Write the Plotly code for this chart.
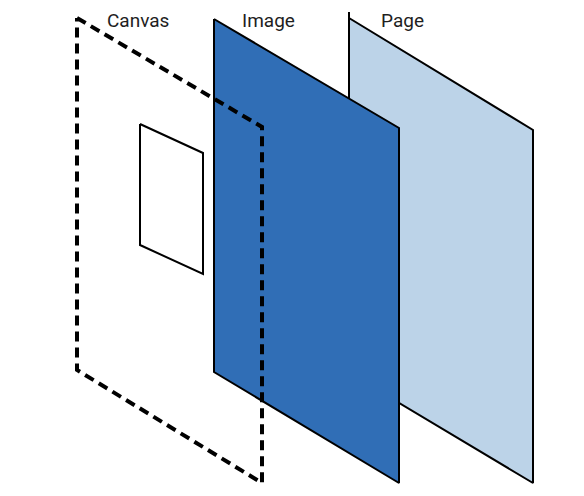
#!/usr/bin/env python3

import plotly.graph_objs as go

# layer outlines in picture coordinates (x right, y down), corners in drawing order
canvas_x = [77, 262, 262, 77, 77]
canvas_y = [18, 127, 483, 370, 18]

image_x = [214, 399, 399, 214, 214]
image_y = [19, 128, 483, 372, 19]

page_x = [349, 533, 533, 349, 349]
page_y = [18, 130, 483, 373, 18]

page_tick_x = [349, 349]
page_tick_y = [12, 18]

inner_x = [140, 203, 203, 140, 140]
inner_y = [124, 153, 274, 245, 124]

labels = ["Canvas", "Image", "Page"]
label_x = [105, 240, 379]
label_y = [20, 20, 20]


def polygon(xs, ys, fill, width=2, dash="solid"):
    return go.Scatter(x=xs, y=ys, mode="lines", fill="toself" if fill else "none",
                      fillcolor=fill, line=dict(color="black", width=width, dash=dash),
                      hoverinfo="skip", showlegend=False)


traces = [
    polygon(page_x, page_y, "#bcd3e8"),
    polygon(page_tick_x, page_tick_y, None),
    polygon(image_x, image_y, "#306eb6"),
    polygon(inner_x, inner_y, "white"),
    polygon(canvas_x, canvas_y, None, width=4, dash="10px,6px"),
]

# the page body has an 8px margin, so the ranges are shifted to keep picture coords
layout = go.Layout(
    width=584, height=496,
    margin=dict(l=0, r=0, t=0, b=0),
    paper_bgcolor="white", plot_bgcolor="white",
    xaxis=dict(range=[8, 592], visible=False, fixedrange=True),
    yaxis=dict(range=[504, 8], visible=False, fixedrange=True),
    font=dict(family="Roboto, sans-serif", size=19, color="#1e1e1e"),
)

fig = go.Figure(data=traces, layout=layout)
for txt, x, y in zip(labels, label_x, label_y):
    fig.add_annotation(x=x, y=y, text=txt, showarrow=False, xanchor="left", yanchor="middle")

fig.write_html("out.html")
